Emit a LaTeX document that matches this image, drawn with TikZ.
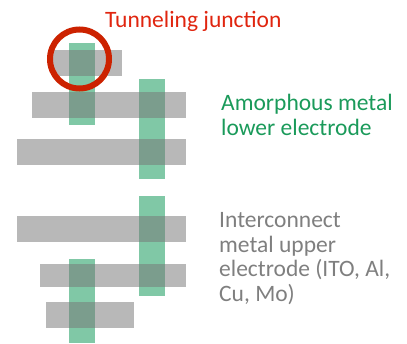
\documentclass[tikz,border=0pt]{standalone}
\usepackage{fontspec}
\setmainfont{Carlito}
\definecolor{barGreen}{HTML}{80C8A6}
\definecolor{barGray}{HTML}{777777}
\definecolor{junRed}{HTML}{CC2200}
\definecolor{txtRed}{HTML}{E0250F}
\definecolor{txtGreen}{HTML}{1A9A5A}
\definecolor{txtGray}{HTML}{7F7F7F}
\begin{document}
\begin{tikzpicture}[x=1pt,y=-1pt,
  lowerbar/.style={fill=barGreen,draw=none},
  upperbar/.style={fill=barGray,fill opacity=0.52,draw=none},
  lbl/.style={anchor=base west,inner sep=0pt,font=\fontsize{23.5}{24.5}\selectfont,align=left}]
\useasboundingbox (0,0) rectangle (407,343);
% amorphous metal lower electrodes (green)
\fill[lowerbar] (69,43) rectangle (95,125);
\fill[lowerbar] (139,79) rectangle (165,179);
\fill[lowerbar] (139,196) rectangle (165,296);
\fill[lowerbar] (69,259) rectangle (95,343);
% interconnect upper electrodes (gray)
\fill[upperbar] (52,50) rectangle (122,76);
\fill[upperbar] (32,92) rectangle (186,118);
\fill[upperbar] (17,139) rectangle (186,165);
\fill[upperbar] (17,216) rectangle (186,242);
\fill[upperbar] (40,264) rectangle (186,287);
\fill[upperbar] (46,302) rectangle (134,328);
% tunneling junction marker
\draw[junRed,line width=6pt] (79.5,59) circle[radius=29.5];
% labels (base anchor = baseline of the last line)
\node[lbl,text=txtRed] (tj) at (105,27) {Tunneling junction};
\node[lbl,text=txtGreen] (am) at (221,135) {Amorphous metal\\lower electrode};
\node[lbl,text=txtGray] (ic) at (219,301) {Interconnect\\metal upper\\electrode (ITO, Al,\\Cu, Mo)};
\end{tikzpicture}
\end{document}
